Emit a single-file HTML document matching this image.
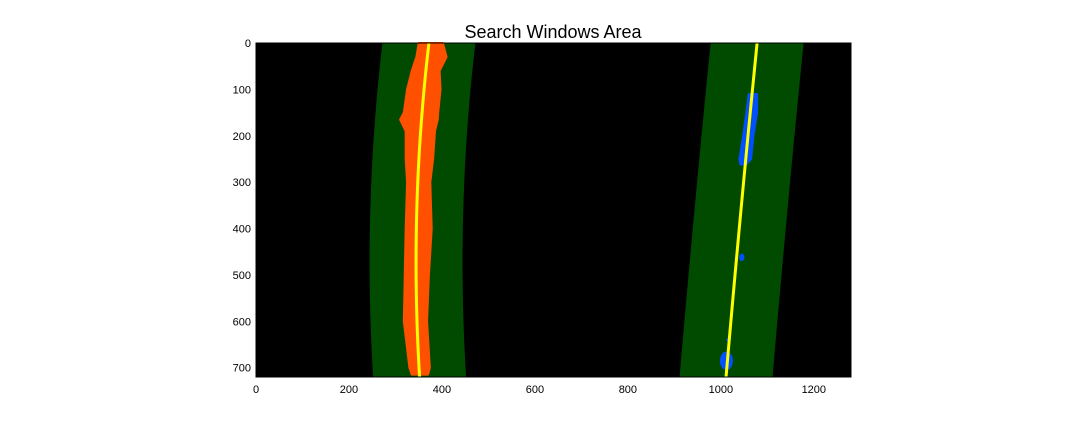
<!DOCTYPE html>
<html><head><meta charset="utf-8"><style>
html,body{margin:0;padding:0;background:#fff;}
svg{display:block;font-family:"Liberation Sans","DejaVu Sans",sans-serif;}
</style></head><body>
<svg id="chart" width="1080" height="432" viewBox="0 0 1080 432" xmlns="http://www.w3.org/2000/svg">
<text x="553" y="38" font-size="18" text-anchor="middle" fill="#000">Search Windows Area</text>
<g id="plot"></g>
<g id="axes"></g>
</svg>
<script>
// data
const xTicks=[0,200,400,600,800,1000,1200];
const yTicks=[0,100,200,300,400,500,600,700];
const leftFit=[1.241e-4,-0.1172,372];
const rightFit=[1e-5,-0.1,1078];
const windowMargin=[100];
const leftBlobY=[0,30,60,100,150,165,190,250,300,400,500,600,700,715];
const leftBlobL=[350,345,335,325,318,310,322,322,325,322,320,318,330,335];
const leftBlobR=[402,410,395,397,392,391,385,381,375,378,372,368,374,370];
const rightBlobY=[110,150,200,250,262];
const rightBlobL=[1060,1055,1048,1040,1042];
const rightBlobR=[1078,1078,1070,1065,1055];
const rightDotsX=[1045,1015,1017,1012];
const rightDotsY=[462,640,655,685];
const rightDotsR=[8,4,4,20];

const X0=256,X1=851,Y0=43,Y1=377,XMAX=1280,YMAX=720;
const sx=v=>X0+v/XMAX*(X1-X0);
const sy=v=>Y0+v/YMAX*(Y1-Y0);
const NS="http://www.w3.org/2000/svg";
const plot=document.getElementById('plot'),axes=document.getElementById('axes');
function mk(tag,attrs,parent){const e=document.createElementNS(NS,tag);for(const k in attrs)e.setAttribute(k,attrs[k]);parent.appendChild(e);return e;}
const fit=(c,y)=>c[0]*y*y+c[1]*y+c[2];

const bg=mk('rect',{x:X0,y:Y0,width:X1-X0,height:Y1-Y0,fill:'#000'},plot);



function band(c,name){
  const ys=[];for(let y=0;y<=YMAX;y+=10)ys.push(y);
  let pts=ys.map(y=>sx(fit(c,y)-windowMargin[0])+','+sy(y));
  pts=pts.concat(ys.slice().reverse().map(y=>sx(fit(c,y)+windowMargin[0])+','+sy(y)));
  const p=mk('polygon',{points:pts.join(' '),fill:'#004b00'},plot);
  
  
}
band(leftFit,'left-search-window');
band(rightFit,'right-search-window');

function blob(ys,ls,rs,color,name){
  let pts=ys.map((y,i)=>sx(ls[i])+','+sy(y));
  pts=pts.concat(ys.map((y,i)=>sx(rs[i])+','+sy(y)).reverse());
  const p=mk('polygon',{points:pts.join(' '),fill:color,'stroke':color,'stroke-width':2,'stroke-linejoin':'round'},plot);
  
  
}
blob(leftBlobY,leftBlobL,leftBlobR,'#ff5000','left-lane-pixels');
blob(rightBlobY,rightBlobL,rightBlobR,'#0050ff','right-lane-pixels');
rightDotsX.forEach((x,i)=>{
  const e=mk('ellipse',{cx:sx(x),cy:sy(rightDotsY[i]),rx:rightDotsR[i]*0.465*0.7,ry:rightDotsR[i]*0.465,fill:'#0050ff'},plot);
  
  
});

function line(c,name){
  const pts=[];for(let y=0;y<=YMAX;y+=10)pts.push(sx(fit(c,y))+','+sy(y));
  const p=mk('polyline',{points:pts.join(' '),fill:'none',stroke:'#ffff00','stroke-width':3},plot);
  
  
}
line(leftFit,'left-fit-line');
line(rightFit,'right-fit-line');

const frame=mk('rect',{x:X0,y:Y0,width:X1-X0,height:Y1-Y0,fill:'none',stroke:'#000','stroke-width':1},axes);


xTicks.forEach(v=>{
  const t=mk('text',{x:sx(v),y:Y1+16,'font-size':11,'text-anchor':'middle',fill:'#000'},axes);
  t.textContent=v;
  
  
});
yTicks.forEach(v=>{
  const t=mk('text',{x:X0-5,y:sy(v)+4,'font-size':11,'text-anchor':'end',fill:'#000'},axes);
  t.textContent=v;
  
  
});
</script>
</body></html>
